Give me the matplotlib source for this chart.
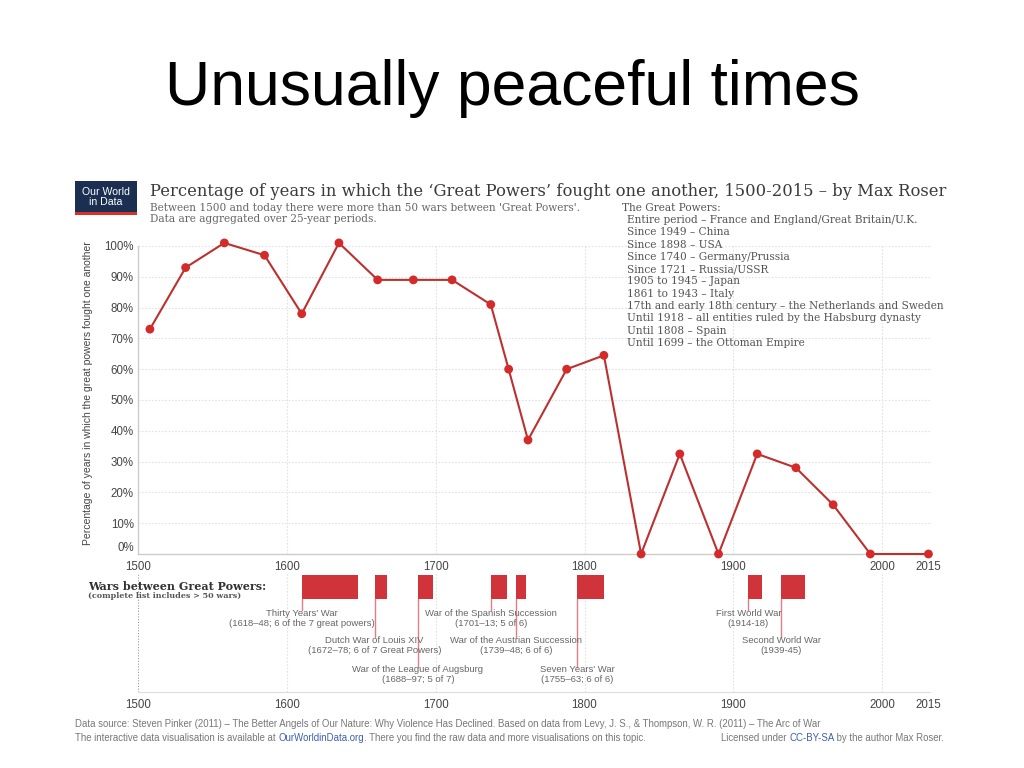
import numpy as np
import matplotlib
matplotlib.use("Agg")
import matplotlib.pyplot as plt
from matplotlib.patches import Rectangle
from matplotlib.text import Annotation

# ---- data ----
years = [1508, 1532, 1558, 1585, 1610, 1635, 1661, 1685, 1711, 1737, 1749,
         1762, 1788, 1813, 1838, 1864, 1890, 1916, 1942, 1967, 1992, 2015]
pct_war = [73, 93, 101, 97, 78, 101, 89, 89, 89, 81, 60,
           37, 60, 64.5, 0, 32.5, 0, 32.5, 28, 16, 0, 0]

x_ticks = [1500, 1600, 1700, 1800, 1900, 2000, 2015]
y_ticks = [0, 10, 20, 30, 40, 50, 60, 70, 80, 90, 100]

war_names = ["Thirty Years' War", "Dutch War of Louis XIV", "War of the League of Augsburg",
             "War of the Spanish Succession", "War of the Austrian Succession",
             "Seven Years' War", "First World War", "Second World War"]
war_notes = ["(1618–48; 6 of the 7 great powers)", "(1672–78; 6 of 7 Great Powers)",
             "(1688–97; 5 of 7)", "(1701–13; 5 of 6)", "(1739–48; 6 of 6)",
             "(1755–63; 6 of 6)", "(1914-18)", "(1939-45)"]
war_start = [1610, 1659, 1688, 1737, 1754, 1795, 1910, 1932]
war_end = [1648, 1667, 1698, 1748, 1761, 1813, 1919, 1948]
war_row = [0, 1, 2, 0, 1, 2, 0, 1]

great_powers = [
    "Entire period – France and England/Great Britain/U.K.",
    "Since 1949 – China",
    "Since 1898 – USA",
    "Since 1740 – Germany/Prussia",
    "Since 1721 – Russia/USSR",
    "1905 to 1945 – Japan",
    "1861 to 1943 – Italy",
    "17th and early 18th century – the Netherlands and Sweden",
    "Until 1918 – all entities ruled by the Habsburg dynasty",
    "Until 1808 – Spain",
    "Until 1699 – the Ottoman Empire",
]

LINE = "#bd3030"
DOT = "#d42a2a"
BAR = "#d0343a"
LEAD = "#e27d88"
GRID = "#e2e2e2"
SANS = ["Liberation Sans", "DejaVu Sans"]
SERIF = ["DejaVu Serif"]

W, H = 1024, 768
K = 2.07  # the last 15 years are stretched on the original axis


def fwd(x):
    x = np.asarray(x, dtype=float)
    return np.where(x <= 2000, x, 2000 + (x - 2000) * K)


def inv(y):
    y = np.asarray(y, dtype=float)
    return np.where(y <= 2000, y, 2000 + (y - 2000) / K)


def fx(px):
    return px / W


def fy(py):
    return 1 - py / H


fig = plt.figure(figsize=(W / 100, H / 100), dpi=100)
fig.patch.set_facecolor("white")

fig.text(0.5, fy(88), "Unusually peaceful times", ha="center", va="center",
         fontsize=45, family=SANS, color="black")

# ---- logo and header ----
fig.patches.append(Rectangle((fx(75), fy(213)), fx(62), 32 / H, transform=fig.transFigure,
                             facecolor="#1b2f52", edgecolor="none"))
fig.patches.append(Rectangle((fx(75), fy(215)), fx(62), 2.5 / H, transform=fig.transFigure,
                             facecolor="#d6322b", edgecolor="none"))
fig.text(fx(106), fy(197), "Our World\nin Data", ha="center", va="center", fontsize=7.6,
         family=SANS, color="white", linespacing=0.95)

fig.text(fx(150), fy(192), "Percentage of years in which the ‘Great Powers’ fought one another, "
         "1500-2015 – by Max Roser", ha="left", va="center", fontsize=11.75, family=SERIF,
         color="#3a3a3a")
fig.text(fx(150), fy(208), "Between 1500 and today there were more than 50 wars between "
         "'Great Powers'.", ha="left", va="center", fontsize=7.6, family=SERIF, color="#666666")
fig.text(fx(150), fy(219), "Data are aggregated over 25-year periods.", ha="left",
         va="center", fontsize=7.6, family=SERIF, color="#666666")

fig.text(fx(622), fy(208), "The Great Powers:", ha="left", va="center", fontsize=7.6,
         family=SERIF, color="#555555")
for i, line in enumerate(great_powers):
    fig.text(fx(627), fy(220 + i * 12.3), line, ha="left", va="center", fontsize=7.6,
             family=SERIF, color="#555555")

# ---- main line chart ----
ax = fig.add_axes([fx(138), fy(554), fx(930 - 138), (554 - 246) / H])
ax.set_xscale("function", functions=(fwd, inv))
ax.set_xlim(1500, 2015.5)
ax.set_ylim(0, 100)

for y in y_ticks[1:]:
    ax.axhline(y, color=GRID, lw=0.8, ls=(0, (1.5, 1.5)), zorder=0)
for x in x_ticks[1:-1]:
    ax.axvline(x, color=GRID, lw=0.8, ls=(0, (1.5, 1.5)), zorder=0)

ax.plot(years, pct_war, color=LINE, lw=1.5, zorder=3, clip_on=False)
ax.scatter(years, pct_war, s=40, color=DOT, edgecolors="none", zorder=4, clip_on=False)

ax.set_xticks(x_ticks)
ax.set_xticklabels([str(t) for t in x_ticks])
ax.set_yticks(y_ticks)
ax.set_yticklabels([f"{t}%" for t in y_ticks])
ax.tick_params(length=0, labelsize=8.3, colors="#444444")
ax.tick_params(axis="x", pad=5)
ax.tick_params(axis="y", pad=3)
for lab in ax.get_xticklabels() + ax.get_yticklabels():
    lab.set_family(SANS)
ax.get_yticklabels()[0].set_va("bottom")
for s in ("top", "right"):
    ax.spines[s].set_visible(False)
for s in ("left", "bottom"):
    ax.spines[s].set_color("#cccccc")
    ax.spines[s].set_linewidth(1.0)

fig.text(fx(88), fy(393), "Percentage of years in which the great powers fought one another",
         rotation=90, ha="center", va="center", fontsize=7.5, family=SANS, color="#444444")

# ---- wars timeline ----
ax2 = fig.add_axes([fx(138), fy(692), fx(930 - 138), (692 - 573) / H])
ax2.set_xscale("function", functions=(fwd, inv))
ax2.set_xlim(1500, 2015.5)
ax2.set_ylim(119, 0)

for x in x_ticks[1:-1]:
    ax2.axvline(x, color=GRID, lw=0.8, ls=(0, (1.5, 1.5)), zorder=0)
ax2.axvline(1500, color="#999999", lw=0.8, ls=(0, (1, 1.5)), zorder=0)

widths = [e - s for s, e in zip(war_start, war_end)]
ax2.barh(14, widths, left=war_start, height=24, color=BAR, edgecolor="none", zorder=2)

row_line_end = [37, 64, 94]
row_text_top = [36, 63, 92]
for name, note, s, r in zip(war_names, war_notes, war_start, war_row):
    ax2.plot([s, s], [26, row_line_end[r]], color=LEAD, lw=1.0, zorder=3)
    ax2.text(s, row_text_top[r], f"{name}\n{note}", ha="center", va="top", fontsize=6.8,
             family=SANS, color="#666666", linespacing=1.1, zorder=4)

ax2.set_xticks(x_ticks)
ax2.set_xticklabels([str(t) for t in x_ticks])
ax2.set_yticks([])
ax2.tick_params(length=0, labelsize=8.3, colors="#444444", pad=5)
for lab in ax2.get_xticklabels():
    lab.set_family(SANS)
for s in ("top", "right", "left"):
    ax2.spines[s].set_visible(False)
ax2.spines["bottom"].set_color("#dddddd")

fig.text(fx(88), fy(586), "Wars between Great Powers:", ha="left", va="center",
         fontsize=8.0, family=SERIF, weight="bold", color="#333333")
fig.text(fx(88), fy(596.5), "(complete list includes > 50 wars)", ha="left", va="center",
         fontsize=5.8, family=SERIF, weight="bold", color="#555555")

# ---- footer ----
fig.text(fx(75), fy(724), "Data source: Steven Pinker (2011) – The Better Angels of Our Nature: "
         "Why Violence Has Declined. Based on data from Levy, J. S., & Thompson, W. R. (2011) "
         "– The Arc of War", color="#777777", ha="left", va="center", fontsize=6.9, family=SANS)


def chain_text(x, y, pieces):
    prev = fig.text(x, y, pieces[0][0], color=pieces[0][1], ha="left", va="center",
                    fontsize=6.9, family=SANS)
    for txt, col in pieces[1:]:
        prev = fig.add_artist(Annotation(
            txt, xy=(1, 0), xycoords=prev, color=col, ha="left", va="bottom",
            fontsize=6.9, family=SANS))


chain_text(fx(75), fy(738), [
    ("The interactive data visualisation is available at ", "#777777"),
    ("OurWorldinData.org", "#3d5fb0"),
    (". There you find the raw data and more visualisations on this topic.", "#777777"),
])
chain_text(fx(721), fy(738), [
    ("Licensed under ", "#777777"),
    ("CC-BY-SA", "#3d5fb0"),
    (" by the author Max Roser.", "#777777"),
])

fig.savefig("out.png", dpi=100, facecolor="white")
